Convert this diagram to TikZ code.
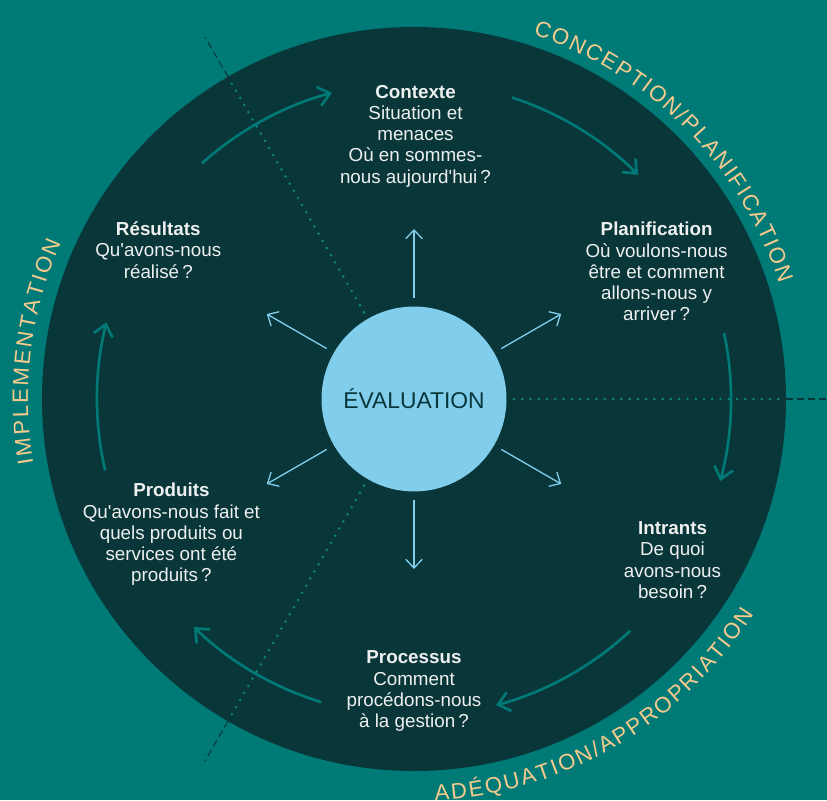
\documentclass[tikz,border=0pt]{standalone}
\usepackage{fontspec}
\setmainfont{Liberation Sans}
\usetikzlibrary{arrows.meta,decorations.text,calc}
\definecolor{sea}{RGB}{0,122,118}
\definecolor{deep}{RGB}{9,54,57}
\definecolor{sky}{RGB}{128,205,236}
\definecolor{ochre}{RGB}{246,203,141}
\definecolor{ink}{RGB}{238,240,240}
\definecolor{dotc}{RGB}{12,132,127}
\tikzset{
  stage/.style={align=center,text=ink,font=\fontsize{10.7}{12.1}\selectfont,inner sep=0pt},
  cyc/.style={draw=sea,line width=1.5pt,-{Straight Barb[length=6.5pt,width=11pt]}},
  ray/.style={draw=sky,line width=0.75pt,-{Straight Barb[length=5pt,width=9.4pt]}},
  dots/.style={draw=dotc,line width=1.6pt,line cap=round,dash pattern=on 0pt off 4.7pt},
  cut/.style={draw=deep,line width=0.6pt,dash pattern=on 4pt off 2.3pt}
}
\newcommand{\arclabel}[4]{\path[decorate,decoration={text along path,text align=fit to path,
  text={|\fontsize{12.6}{14}\selectfont\color{ochre}|#4}}] (#1:#3) arc[start angle=#1,end angle=#2,radius=#3];}
\begin{document}
\begin{tikzpicture}[x=0.02cm,y=0.02cm]
\fill[sea] (-414,-401) rectangle (413,399);
\useasboundingbox (-414,-401) rectangle (413,399);
\fill[deep] (0,0) circle (372);
\foreach \a in {120,240,0}{
  \draw[dots] (\a:100) -- (\a:372);
  \draw[cut] (\a:372) -- (\a:418);
}
\node[circle,fill=sky,minimum size=3.7cm,inner sep=0pt,text=deep,font=\fontsize{13}{15}\selectfont] (ev) at (0,0) {ÉVALUATION};
\foreach \a in {90,30,-30,-90,-150,150}
  \draw[ray] ([shift={(\a:8)}]ev.\a) -- (\a:170);
\foreach \s/\e in {132/105,72/45,12/-15,-47/-75,-107/-134,193/166}
  \draw[cyc] (\s:317) arc[start angle=\s,end angle=\e,radius=317];
\node[stage] (ctx) at (1.5,263) {\textbf{Contexte}\\Situation et\\menaces\\Où en sommes-\\nous aujourd\textquotesingle hui\,?};
\node[stage] (plan) at (242.6,127.4) {\textbf{Planification}\\Où voulons-nous\\être et comment\\allons-nous y\\arriver\,?};
\node[stage] (intr) at (258.5,-161) {\textbf{Intrants}\\De quoi\\avons-nous\\besoin\,?};
\node[stage] (proc) at (0,-292.3) {\textbf{Processus}\\Comment\\procédons-nous\\à la gestion\,?};
\node[stage] (prod) at (-242.6,-135.5) {\textbf{Produits}\\Qu\textquotesingle avons-nous fait et\\quels produits ou\\services ont été\\produits\,?};
\node[stage] (res) at (-255.7,149) {\textbf{Résultats}\\Qu\textquotesingle avons-nous\\réalisé\,?};
\arclabel{71.9}{17.6}{383}{CONCEPTION/PLANIFICATION}
\arclabel{189.6}{156.1}{386}{IMPLEMENTATION}
\arclabel{-87}{-32.3}{402}{ADÉQUATION/APPROPRIATION}
\end{tikzpicture}
\end{document}
